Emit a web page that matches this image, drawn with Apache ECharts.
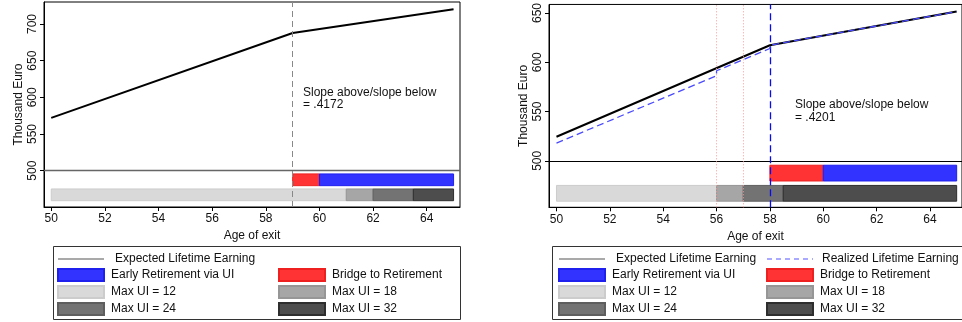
<!DOCTYPE html>
<html>
<head>
<meta charset="utf-8">
<script src="https://cdn.jsdelivr.net/npm/echarts@6/dist/echarts.min.js"></script>
<style>
  html, body { margin: 0; padding: 0; background: #fff; }
  #chart { width: 962px; height: 322px; }
</style>
</head>
<body>
<div id="chart"></div>
<script>
// Age ticks shared by both panels
const ageTicks = [50, 52, 54, 56, 58, 60, 62, 64];

// Left panel: eligibility cutoff at 59
const leftAges = [50, 59, 65];
const leftExpected = [572, 687.8, 720];
const leftCutoff = 59;
const leftBridge = [59, 60];
const leftEarly = [60, 65];
const leftUiBreaks = [50, 61, 62, 63.5, 65];
const leftTicks = [500, 550, 600, 650, 700];
const leftSlopeNote = '.4172';

// Right panel: eligibility cutoff at 58, reform ages 56 and 57
const rightAges = [50, 58, 65];
const rightExpected = [524.4, 617.3, 651.5];
const rightRealizedAges = [50, 56, 56, 58, 58, 65];
const rightRealized = [518, 586.3, 591.4, 614, 617.3, 651.5];
const rightCutoff = 58;
const rightReforms = [56, 57];
const rightBridge = [58, 60];
const rightEarly = [60, 65];
const rightUiBreaks = [50, 56, 57, 58.5, 65];
const rightTicks = [500, 550, 600, 650];
const rightSlopeNote = '.4201';

const uiNames = ['Max UI = 12', 'Max UI = 18', 'Max UI = 24', 'Max UI = 32'];

// ---- styling ----
const FONT = 'Liberation Sans, Arial, Helvetica, sans-serif';
const upperRow = [479.5, 495.5];
const lowerRow = [459, 475];
const uiFill = ['#d9d9d9', '#a6a6a6', '#737373', '#4d4d4d'];
const uiStroke = ['#cccccc', '#969696', '#5e5e5e', '#2e2e2e'];
const blueFill = '#3333ff', blueStroke = '#1f1fee';
const redFill = '#ff3333', redStroke = '#ee2020';

function bandSeries(name, idx, range, row, fill, stroke) {
  return {
    type: 'custom', name: name, xAxisIndex: idx, yAxisIndex: idx,
    data: [range], z: 2, silent: true,
    itemStyle: { color: fill, borderColor: stroke, borderWidth: 1 },
    renderItem: function (params, api) {
      const p0 = api.coord([api.value(0), row[1]]);
      const p1 = api.coord([api.value(1), row[0]]);
      return {
        type: 'rect',
        shape: { x: p0[0], y: p0[1], width: p1[0] - p0[0], height: p1[1] - p0[1] },
        style: { fill: fill, stroke: stroke, lineWidth: 1 }
      };
    }
  };
}

function uiSeries(idx, breaks) {
  const out = [];
  for (let i = 0; i < breaks.length - 1; i++) {
    out.push(bandSeries(uiNames[i], idx, [breaks[i], breaks[i + 1]], lowerRow, uiFill[i], uiStroke[i]));
  }
  return out;
}

function zip(xs, ys) { return xs.map((x, i) => [x, ys[i]]); }

function xAxisFor(idx, min, max) {
  return {
    type: 'value', gridIndex: idx, min: min, max: max,
    name: 'Age of exit', nameLocation: 'middle', nameGap: 20,
    nameTextStyle: { fontFamily: FONT, fontSize: 12, color: '#111' },
    axisLine: { show: true, lineStyle: { color: '#000', width: 1 } },
    axisTick: { show: true, length: 4, customValues: ageTicks, lineStyle: { color: '#000' } },
    axisLabel: { customValues: ageTicks, margin: 6, fontFamily: FONT, fontSize: 12, color: '#111' },
    splitLine: { show: false }
  };
}

function yAxisFor(idx, min, max, ticks) {
  return {
    type: 'value', gridIndex: idx, min: min, max: max,
    name: 'Thousand Euro', nameLocation: 'middle', nameGap: 19, nameRotate: 90,
    nameTextStyle: { fontFamily: FONT, fontSize: 12, color: '#111' },
    axisLine: { show: true, lineStyle: { color: '#000', width: 1 } },
    axisTick: { show: true, length: 4, customValues: ticks, lineStyle: { color: '#000' } },
    axisLabel: { customValues: ticks, rotate: 90, margin: 5, fontFamily: FONT, fontSize: 12, color: '#111' },
    splitLine: { show: false }
  };
}

const legendText = { fontFamily: FONT, fontSize: 12, color: '#111', lineHeight: 12, padding: [0, 0, 0, 2] };
function legendCol(left, top, items) {
  return {
    orient: 'vertical', left: left, top: top, padding: 0,
    itemWidth: 46, itemHeight: 12, itemGap: 3,
    selectedMode: false, textStyle: legendText, data: items
  };
}
const rectItem = name => ({ name: name, icon: 'rect' });
// line keys: keep the stroke, hide the marker the legend adds
const lineItem = (name, lineStyle, pad) => ({
  name: name, lineStyle: lineStyle, itemStyle: { opacity: 0 },
  textStyle: { padding: [0, 0, 0, pad] }
});

const chart = echarts.init(document.getElementById('chart'), null, { renderer: 'canvas' });

const option = {
  animation: false,
  backgroundColor: '#fff',
  grid: [
    { left: 44, top: 2, width: 416, height: 205, show: true, borderColor: '#000', borderWidth: 1, containLabel: false },
    { left: 549, top: 2, width: 416, height: 205.3, show: true, borderColor: '#000', borderWidth: 1, containLabel: false }
  ],
  xAxis: [xAxisFor(0, 49.73, 65.24), xAxisFor(1, 49.72, 65.2)],
  yAxis: [yAxisFor(0, 450.4, 730, leftTicks), yAxisFor(1, 452.8, 658.7, rightTicks)],
  legend: [
    legendCol(57, 253, [
      lineItem('Expected Lifetime Earning', { color: '#555', width: 1.2 }, 6),
      rectItem('Early Retirement via UI'), rectItem(uiNames[0]), rectItem(uiNames[2])
    ]),
    legendCol(278, 268, [rectItem('Bridge to Retirement'), rectItem(uiNames[1]), rectItem(uiNames[3])]),
    legendCol(558, 253, [
      lineItem('Expected Lifetime Earning', { color: '#555', width: 1.2 }, 6),
      rectItem('Early Retirement via UI'), rectItem(uiNames[0]), rectItem(uiNames[2])
    ]),
    legendCol(766, 253, [
      lineItem('Realized Lifetime Earning', { color: '#5555ff', width: 1.2, type: [5, 4] }, 4),
      rectItem('Bridge to Retirement'), rectItem(uiNames[1]), rectItem(uiNames[3])
    ])
  ],
  graphic: [
    { type: 'rect', silent: true, shape: { x: 53.5, y: 246.5, width: 407, height: 73 },
      style: { fill: 'none', stroke: '#333', lineWidth: 1 } },
    { type: 'rect', silent: true, shape: { x: 552.5, y: 246.5, width: 420, height: 73 },
      style: { fill: 'none', stroke: '#333', lineWidth: 1 } },
    { type: 'text', silent: true, x: 303, y: 86,
      style: { text: 'Slope above/slope below\n= ' + leftSlopeNote, font: '12px ' + FONT, fill: '#111', lineHeight: 12.5 } },
    { type: 'text', silent: true, x: 795, y: 98.7,
      style: { text: 'Slope above/slope below\n= ' + rightSlopeNote, font: '12px ' + FONT, fill: '#111', lineHeight: 12.5 } }
  ],
  series: [
    // ---- left panel ----
    bandSeries('Bridge to Retirement', 0, leftBridge, upperRow, redFill, redStroke),
    bandSeries('Early Retirement via UI', 0, leftEarly, upperRow, blueFill, blueStroke),
    ...uiSeries(0, leftUiBreaks),
    {
      type: 'line', name: 'Expected Lifetime Earning', xAxisIndex: 0, yAxisIndex: 0,
      data: zip(leftAges, leftExpected), symbol: 'none', z: 4, silent: true,
      lineStyle: { color: '#000', width: 2 }, itemStyle: { color: '#000' },
      markLine: {
        silent: true, symbol: 'none', label: { show: false }, z: 5,
        data: [
          { yAxis: 500, lineStyle: { color: '#666', width: 1.3, type: 'solid' } },
          { xAxis: leftCutoff, lineStyle: { color: '#888', width: 1, type: [6, 4] } }
        ]
      }
    },
    // ---- right panel ----
    bandSeries('Bridge to Retirement', 1, rightBridge, upperRow, redFill, redStroke),
    bandSeries('Early Retirement via UI', 1, rightEarly, upperRow, blueFill, blueStroke),
    ...uiSeries(1, rightUiBreaks),
    {
      type: 'line', name: 'Expected Lifetime Earning', xAxisIndex: 1, yAxisIndex: 1,
      data: zip(rightAges, rightExpected), symbol: 'none', z: 4, silent: true,
      lineStyle: { color: '#000', width: 2 }, itemStyle: { color: '#000' },
      markLine: {
        silent: true, symbol: 'none', label: { show: false }, z: 5,
        data: [
          { yAxis: 500, lineStyle: { color: '#000', width: 1, type: 'solid' } },
          ...rightReforms.map(a => ({ xAxis: a, lineStyle: { color: '#ff9a9a', width: 1, type: [1, 2] } })),
          { xAxis: rightCutoff, lineStyle: { color: '#0a0af0', width: 1.3, type: [7, 4] } }
        ]
      }
    },
    {
      type: 'line', name: 'Realized Lifetime Earning', xAxisIndex: 1, yAxisIndex: 1,
      data: zip(rightRealizedAges, rightRealized), symbol: 'none', z: 6, silent: true,
      lineStyle: { color: '#4a4aff', width: 1.3, type: [7, 4] }, itemStyle: { color: '#4a4aff' }
    }
  ]
};

chart.setOption(option);
</script>
</body>
</html>
